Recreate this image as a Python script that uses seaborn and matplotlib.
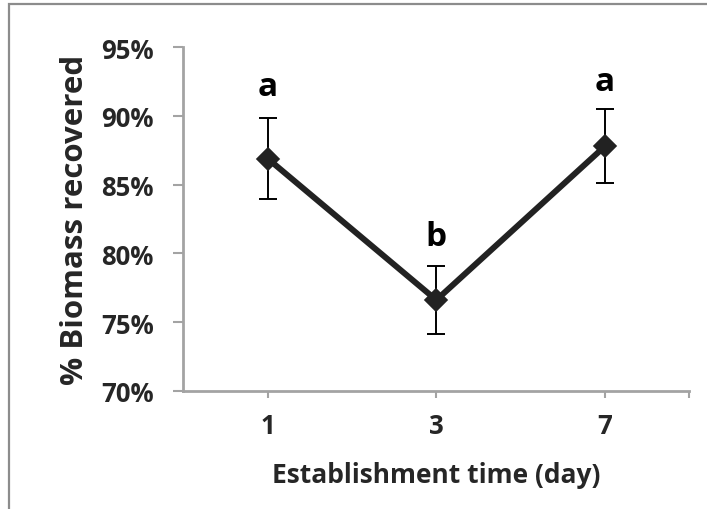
import matplotlib
matplotlib.use("Agg")
import matplotlib.pyplot as plt
from matplotlib.patches import Rectangle
from matplotlib.ticker import FuncFormatter, FixedLocator
import seaborn as sns
import pandas as pd

# Establishment time categories and mean biomass recovery (%) with error
days = ["1", "3", "7"]
biomass = [86.9, 76.6, 87.8]
errors = [2.95, 2.45, 2.7]
# Significance letters and the height of their baselines (%)
letters = ["a", "b", "a"]
letter_y = [91.5, 80.6, 91.9]

y_ticks = [70, 75, 80, 85, 90, 95]

sns.set_theme(style="white")
plt.rcParams["font.family"] = ["Open Sans", "DejaVu Sans"]
plt.rcParams["font.weight"] = "bold"

df = pd.DataFrame({"day": days, "biomass": biomass})

fig = plt.figure(figsize=(7.07, 5.10), dpi=100)
ax = fig.add_axes([0.2593, 0.232, 0.7157, 0.6733])

axis_grey = "#a3a3a3"
ink = "#222222"

sns.pointplot(data=df, x="day", y="biomass", ax=ax, color=ink,
              markers="D", markersize=9, linewidth=4.3, errorbar=None)

ax.errorbar(range(len(days)), biomass, yerr=errors, fmt="none",
            ecolor="black", elinewidth=1.4, capsize=6.5, capthick=1.4,
            zorder=1)

for i, (lab, ly) in enumerate(zip(letters, letter_y)):
    ax.text(i, ly, lab, ha="center", va="baseline", fontsize=24,
            fontweight="bold", color="black")

ax.set_xlim(-0.5, 2.5)
ax.set_ylim(70, 95)
ax.yaxis.set_major_locator(FixedLocator(y_ticks))
ax.yaxis.set_major_formatter(FuncFormatter(lambda v, p: f"{v:.0f}%"))
ax.xaxis.set_minor_locator(FixedLocator([2.5]))

for side in ("top", "right"):
    ax.spines[side].set_visible(False)
for side in ("left", "bottom"):
    ax.spines[side].set_color(axis_grey)
    ax.spines[side].set_linewidth(2)

ax.tick_params(axis="y", which="major", direction="out", length=7.2,
               width=1.5, color=axis_grey, pad=14, labelsize=18.5,
               left=True)
ax.tick_params(axis="x", which="both", direction="out", length=5,
               width=1.5, color=axis_grey, pad=10, labelsize=18.5,
               bottom=True)
for lab in ax.get_xticklabels() + ax.get_yticklabels():
    lab.set_fontweight("bold")

ax.set_xlabel("Establishment time (day)", fontsize=19, fontweight="bold",
              labelpad=16)
ax.set_ylabel("% Biomass recovered", fontsize=22.5, fontweight="bold",
              labelpad=8)
ax.grid(False)

# Outer chart frame
fig.patches.append(Rectangle((9.3 / 707, -0.1), 1.2, 1.1 - 4.7 / 510,
                             transform=fig.transFigure, fill=False,
                             edgecolor="#8c8c8c", linewidth=1.6))

fig.savefig("out.png", dpi=100)
